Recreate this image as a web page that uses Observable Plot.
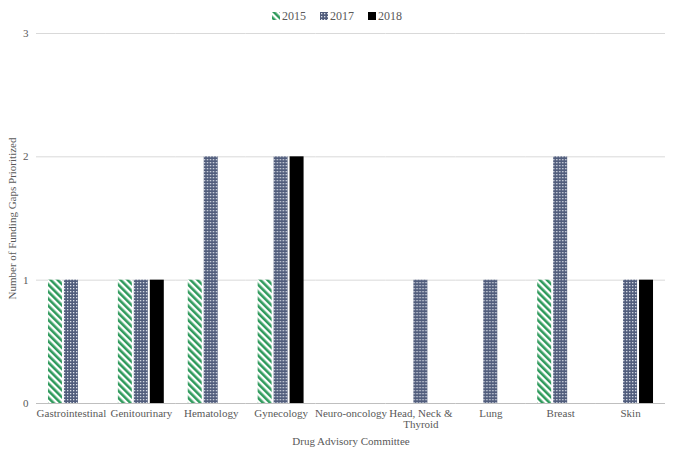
<!DOCTYPE html>
<html><head><meta charset="utf-8">
<script src="https://cdn.jsdelivr.net/npm/d3@7"></script>
<script src="https://cdn.jsdelivr.net/npm/@observablehq/plot@0.6"></script>
<style>
body{margin:0;background:#fff;font-family:"Liberation Serif","Times New Roman",Times,serif;}
#legend{height:26px;display:flex;justify-content:center;align-items:center;gap:14px;font-size:12px;color:#595959;padding-top:6px;box-sizing:border-box}
#legend span{display:flex;align-items:center;gap:2px}
</style></head>
<body>
<div id="legend"></div>
<div id="chart"></div>
<script>
const committees = ["Gastrointestinal","Genitourinary","Hematology","Gynecology","Neuro-oncology","Head, Neck & Thyroid","Lung","Breast","Skin"];
const years = ["2015","2017","2018"];
const values2015 = [1,1,1,1,0,0,0,1,0];
const values2017 = [1,1,2,2,0,1,1,2,1];
const values2018 = [0,1,0,2,0,0,0,0,1];
const yTicks = [0,1,2,3];
const xLabel = "Drug Advisory Committee";
const yLabel = "Number of Funding Gaps Prioritized";

const series = {"2015": values2015, "2017": values2017, "2018": values2018};
const rows = [];
for (const y of years) committees.forEach((c,i) => rows.push({committee:c, year:y, value:series[y][i]}));

const patternDefs = (pre) => `
<pattern id="${pre}p2015" patternUnits="userSpaceOnUse" width="5" height="5" patternTransform="rotate(-45)">
  <rect width="5" height="5" fill="#fff"/><rect width="2.6" height="5" fill="#2f9a5c"/>
</pattern>
<pattern id="${pre}p2017" patternUnits="userSpaceOnUse" width="3" height="3">
  <rect width="3" height="3" fill="#515d7c"/><rect x="1" y="1" width="1.3" height="1.3" fill="#dde1ea"/>
</pattern>`;

const fills = [`url(#p2015)`,`url(#p2017)`,"#000"];
const font = '"Liberation Serif","Times New Roman",Times,serif';

const chart = Plot.plot({
  width: 674, height: 433,
  marginTop: 7, marginLeft: 36, marginRight: 9, marginBottom: 56,
  style: {fontFamily: font, fontSize: "11px", color: "#595959", background: "#fff"},
  fx: {domain: committees, padding: 0, round: false},
  x: {domain: years, paddingInner: 0.125, paddingOuter: 0.75, round: false, axis: null},
  y: {domain: [0,3]},
  color: {domain: years, range: fills},
  marks: [
    Plot.gridY([1,2,3], {stroke: "#d9d9d9", strokeOpacity: 1}),
    Plot.barY(rows, {fx: "committee", x: "year", y: "value", fill: "year"}),
    Plot.ruleY([0], {stroke: "#bfbfbf"}),
    Plot.axisY({ticks: yTicks, tickFormat: d => String(d), tickSize: 0, tickPadding: 8, label: yLabel, labelArrow: "none", labelAnchor: "center", labelOffset: 28}),
    Plot.axisFx({anchor: "bottom", tickSize: 0, tickPadding: 6, label: xLabel, labelArrow: "none", labelAnchor: "center", labelOffset: 41,
      tickFormat: d => d === "Head, Neck & Thyroid" ? "Head, Neck &\nThyroid" : d})
  ]
});
d3.select(chart).insert("defs", ":first-child").html(patternDefs(""));
d3.select(chart).attr("font-family", font).selectAll("text").attr("font-family", font);
document.getElementById("chart").appendChild(chart);

const lg = document.getElementById("legend");
years.forEach((y,i) => {
  const fill = i === 2 ? "#000" : `url(#lg${i===0?"p2015":"p2017"})`;
  lg.insertAdjacentHTML("beforeend", `<span><svg width="8" height="8"><defs>${patternDefs("lg")}</defs><rect width="8" height="8" fill="${fill}"/></svg>${y}</span>`);
});
</script>
</body></html>
